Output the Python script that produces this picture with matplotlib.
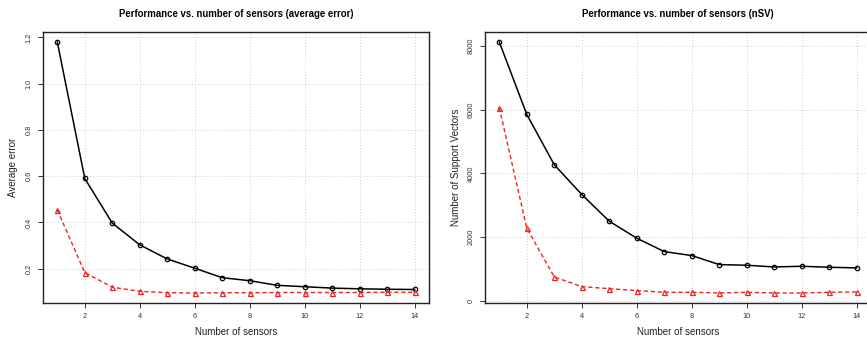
import matplotlib
matplotlib.use("Agg")
import matplotlib.pyplot as plt
import numpy as np

plt.rcParams['font.family'] = ['Liberation Sans', 'DejaVu Sans']

sensors = list(range(1, 15))
err_black = [1.18, 0.59, 0.397, 0.303, 0.242, 0.202, 0.161, 0.148, 0.128, 0.122, 0.116, 0.113, 0.111, 0.110]
err_red = [0.454, 0.183, 0.120, 0.102, 0.096, 0.095, 0.096, 0.096, 0.097, 0.097, 0.097, 0.097, 0.098, 0.098]
nsv_black = [8126, 5851, 4269, 3335, 2496, 1961, 1541, 1416, 1133, 1112, 1059, 1080, 1049, 1028]
nsv_red = [6061, 2276, 744, 440, 377, 315, 262, 262, 241, 262, 241, 241, 262, 273]

xticks = [2, 4, 6, 8, 10, 12, 14]
yticks_err = [0.2, 0.4, 0.6, 0.8, 1.0, 1.2]
yticks_nsv = [0, 2000, 4000, 6000, 8000]
ylabels_err = ['0.2', '0.4', '0.6', '0.8', '1.0', '1.2']
ylabels_nsv = ['0', '2000', '4000', '6000', '8000']

W, H = 867, 339
fig = plt.figure(figsize=(W / 100, H / 100), dpi=100)

def px_axes(l, r, t, b):
    return fig.add_axes([l / W, 1 - b / H, (r - l) / W, (b - t) / H])

ax1 = px_axes(43, 429, 32, 303)
ax2 = px_axes(485, 871, 32, 303)

def rng(vals):
    lo, hi = min(vals), max(vals)
    d = (hi - lo) * 0.04
    return lo - d, hi + d

panels = [
    (ax1, err_black, err_red, yticks_err, ylabels_err, "Performance vs. number of sensors (average error)", "Average error", 5.5),
    (ax2, nsv_black, nsv_red, yticks_nsv, ylabels_nsv, "Performance vs. number of sensors (nSV)", "Number of Support Vectors", 5),
]

for ax, blk, red, yt, ytl, title, ylab, ylpad in panels:
    ax.plot(sensors, blk, color='black', lw=1.1, marker='o', ms=3.2, mfc='none', mec='black', mew=0.9, zorder=3)
    ax.plot(sensors, red, color='#ee2222', lw=1.0, ls=(0, (3, 2)), marker='^', ms=3.6, mfc='none', mec='#ee2222', mew=0.9, zorder=3)
    ax.set_xlim(0.48, 14.52)
    ax.set_ylim(*rng(blk + red))
    ax.set_xticks(xticks)
    ax.set_yticks(yt)
    ax.set_xticklabels([str(v) for v in xticks])
    ax.set_yticklabels(ytl, rotation=90, va='center')
    ax.grid(True, color='#cccccc', ls=(0, (1, 2)), lw=0.7)
    ax.set_axisbelow(True)
    ax.tick_params(labelsize=5.3, length=3.5, width=0.7, colors='#333333', pad=4)
    for s in ax.spines.values():
        s.set_linewidth(1.0)
        s.set_color('#222222')
    ax.set_title(title, fontsize=6.9, fontweight='bold', pad=10.5)
    ax.set_xlabel("Number of sensors", fontsize=7, color='#222222', labelpad=5)
    ax.set_ylabel(ylab, fontsize=7, color='#222222', labelpad=ylpad)

fig.savefig("out.png", dpi=100)
